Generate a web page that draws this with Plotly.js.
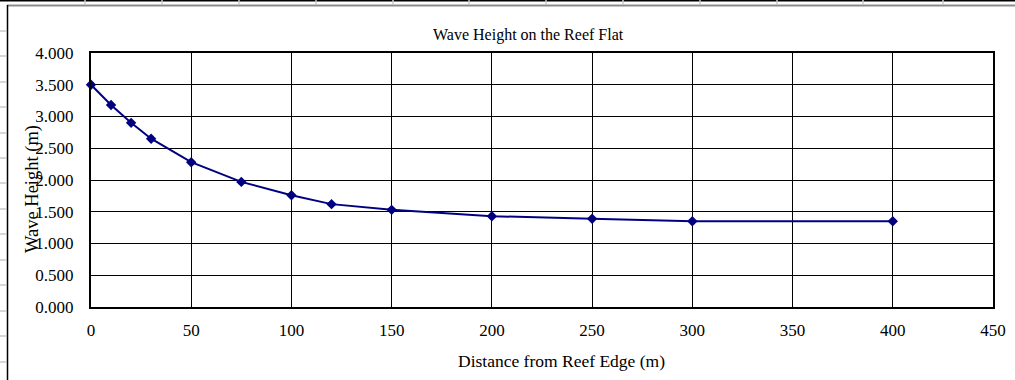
<!DOCTYPE html>
<html>
<head>
<meta charset="utf-8">
<script src="https://cdn.plot.ly/plotly-3.0.1.min.js"></script>
<style>
html,body{margin:0;padding:0;background:#fff;}
#chart{width:1015px;height:380px;}
</style>
</head>
<body>
<div id="chart"></div>
<script>
// Data
const distance = [0, 10, 20, 30, 50, 75, 100, 120, 150, 200, 250, 300, 400];
const waveHeight = [3.50, 3.18, 2.90, 2.65, 2.28, 1.97, 1.76, 1.62, 1.53, 1.43, 1.39, 1.35, 1.35];
const chartTitle = "Wave Height on the Reef Flat";
const xTitle = "Distance from Reef Edge (m)";
const yTitle = "Wave Height (m)";

// layout geometry (pixels)
const L = 91, R = 993, T = 53, B = 307, W = 1015, H = 380;
const px = x => (x - L) / (R - L);
const py = y => (B - y) / (B - T);

const shapes = [];
// spreadsheet background: top row border
shapes.push({type:'rect', xref:'paper', yref:'paper', x0:px(0), x1:px(W), y0:py(0), y1:py(1.5), fillcolor:'#000', line:{width:0}, layer:'below'});
[85,162,239,316,393,469,546,623,700,777,863,943].forEach(x=>{
  shapes.push({type:'line', xref:'paper', yref:'paper', x0:px(x), x1:px(x), y0:py(0), y1:py(4), line:{color:'#c8c8c8', width:1.5}, layer:'below'});
});
// left column row borders
[31,56,82,107,133,158,183,209,234,260,285,311,336,362].forEach(y=>{
  shapes.push({type:'line', xref:'paper', yref:'paper', x0:px(0), x1:px(6), y0:py(y), y1:py(y), line:{color:'#c8c8c8', width:1.5}, layer:'below'});
});
// chart area border
shapes.push({type:'line', xref:'paper', yref:'paper', x0:px(7), x1:px(W), y0:py(5.5), y1:py(5.5), line:{color:'#8c8c8c', width:2}, layer:'below'});
shapes.push({type:'line', xref:'paper', yref:'paper', x0:px(7.5), x1:px(7.5), y0:py(5), y1:py(H), line:{color:'#000', width:1.5}, layer:'below'});

const serif = 'Liberation Serif, Times New Roman, serif';

const trace = {
  x: distance, y: waveHeight, type:'scatter', mode:'lines+markers',
  line:{color:'#000080', width:2},
  marker:{symbol:'diamond', size:8, color:'#000080'},
  cliponaxis:false, hoverinfo:'skip'
};

const layout = {
  width: W, height: H,
  margin:{l:L, r:W-R, t:T, b:H-B, pad:0},
  paper_bgcolor:'rgba(0,0,0,0)', plot_bgcolor:'#fff',
  showlegend:false,
  font:{family:serif, size:17, color:'#000'},
  xaxis:{range:[0,450], dtick:50, tick0:0, showgrid:true, gridcolor:'#000', gridwidth:1,
    zeroline:false, showline:true, mirror:true, linecolor:'#000', linewidth:2,
    ticks:'', tickfont:{family:serif, size:17, color:'#000'}, ticklabelstandoff:7, fixedrange:true},
  yaxis:{range:[0,4], dtick:0.5, tick0:0, tickformat:'.3f', showgrid:true, gridcolor:'#000', gridwidth:1,
    zeroline:false, showline:true, mirror:true, linecolor:'#000', linewidth:2,
    ticks:'', tickfont:{family:serif, size:17, color:'#000'}, ticklabelstandoff:12, fixedrange:true},
  shapes: shapes,
  annotations:[
    {text:chartTitle, xref:'paper', yref:'paper', x:px(528), y:py(35), xanchor:'center', yanchor:'middle', showarrow:false, font:{family:serif, size:16, color:'#000'}},
    {text:xTitle, xref:'paper', yref:'paper', x:px(561), y:py(361), xanchor:'center', yanchor:'middle', showarrow:false, font:{family:serif, size:17.5, color:'#000'}},
    {text:yTitle, xref:'paper', yref:'paper', x:px(33), y:py(189), xanchor:'center', yanchor:'middle', textangle:-90, showarrow:false, font:{family:serif, size:18.5, color:'#000'}}
  ]
};

Plotly.newPlot('chart', [trace], layout, {displayModeBar:false, staticPlot:true});
</script>
</body>
</html>
